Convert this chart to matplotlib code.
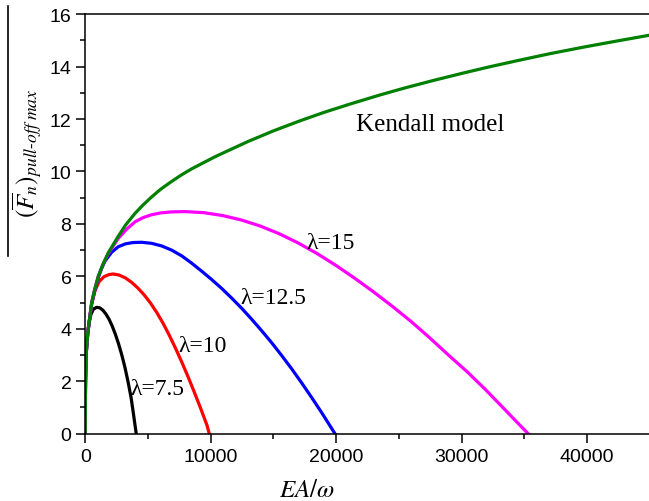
import numpy as np
import matplotlib
matplotlib.use("Agg")
import matplotlib.pyplot as plt
from matplotlib.lines import Line2D

plt.rcParams["mathtext.fontset"] = "stix"
plt.rcParams["font.family"] = ["Liberation Sans", "DejaVu Sans"]

# values
kendallX = [0, 5, 20, 50, 100, 200, 350, 510, 750, 1036, 1400, 1833, 2300,
            2630, 3200, 3960, 4600, 5290, 6000, 6880, 7700, 8480, 9400, 10335,
            11500, 13000, 15000, 17100, 19000, 21090, 23500, 25500, 27730,
            30000, 32200, 34370, 37000, 39680, 42300, 45000]
kendallY = [0, 1.2, 2.0, 2.7, 3.25, 3.85, 4.4, 5.0, 5.5, 6.0, 6.45, 6.9, 7.27,
            7.53, 7.95, 8.4, 8.72, 9.03, 9.32, 9.62, 9.88, 10.1, 10.33, 10.56,
            10.82, 11.15, 11.55, 11.93, 12.25, 12.57, 12.92, 13.19, 13.47,
            13.74, 13.99, 14.22, 14.49, 14.74, 14.97, 15.2]

lam75X = [0, 5, 20, 50, 100, 200, 300, 450, 650, 908, 1150, 1400, 1650, 1900,
          2150, 2400, 2650, 2900, 3150, 3400, 3650, 3850, 4060]
lam75Y = [0, 1.2, 2.0, 2.7, 3.25, 3.85, 4.22, 4.55, 4.75, 4.82, 4.8, 4.71,
          4.56, 4.36, 4.1, 3.79, 3.43, 3.02, 2.55, 2.0, 1.38, 0.72, 0]

lam10X = [0, 5, 20, 50, 100, 200, 350, 510, 773, 1100, 1500, 1900, 2240,
          2700, 3200, 3700, 4200, 4700, 5200, 5700, 6200, 6700, 7200, 7700,
          8200, 8700, 9200, 9700, 9880]
lam10Y = [0, 1.2, 2.0, 2.7, 3.25, 3.85, 4.4, 4.95, 5.45, 5.8, 5.99, 6.07,
          6.09, 6.05, 5.94, 5.77, 5.55, 5.29, 4.98, 4.62, 4.21, 3.75, 3.25,
          2.72, 2.16, 1.57, 0.96, 0.32, 0]

lam125X = [0, 5, 20, 50, 100, 200, 350, 510, 750, 1036, 1300, 1570, 2100,
           2630, 3200, 3800, 4490, 5290, 6090, 6890, 7690, 8490, 9270, 10070,
           10870, 11670, 12470, 13270, 14070, 14870, 15670, 16470, 17270,
           18070, 18870, 19900]
lam125Y = [0, 1.2, 2.0, 2.7, 3.25, 3.85, 4.4, 4.95, 5.45, 5.95, 6.3, 6.58,
           6.92, 7.13, 7.24, 7.29, 7.3, 7.26, 7.16, 7.0, 6.78, 6.5, 6.2, 5.88,
           5.54, 5.17, 4.78, 4.36, 3.92, 3.46, 2.97, 2.46, 1.92, 1.36, 0.78, 0]

lam15X = [0, 5, 20, 50, 100, 200, 350, 510, 750, 1036, 1400, 1833, 2630,
          3300, 3960, 4600, 5290, 6000, 6900, 7940, 9440, 10940, 12440, 13940,
          15440, 16940, 18440, 19940, 21440, 22940, 24440, 25940, 27440,
          28940, 30440, 31940, 33440, 34400, 35300]
lam15Y = [0, 1.2, 2.0, 2.7, 3.25, 3.85, 4.4, 5.0, 5.5, 6.0, 6.44, 6.87, 7.45,
          7.8, 8.08, 8.24, 8.35, 8.42, 8.46, 8.47, 8.43, 8.32, 8.15, 7.92,
          7.63, 7.28, 6.88, 6.43, 5.94, 5.42, 4.87, 4.29, 3.66, 3.0, 2.36,
          1.66, 0.92, 0.44, 0]

lamLabels = ["λ=7.5", "λ=10", "λ=12.5", "λ=15"]
lamLabelX = [3560, 7410, 12330, 17640]
lamLabelY = [1.71, 3.36, 5.20, 7.30]

fig = plt.figure(figsize=(6.49, 5.02), dpi=100)
ax = fig.add_axes([0.1314, 0.1341, 0.870, 0.8357])

ax.plot(lam75X, lam75Y, color="black", linewidth=2.3)
ax.plot(lam10X, lam10Y, color="#ff0000", linewidth=2.3)
ax.plot(lam125X, lam125Y, color="#0000ff", linewidth=2.3)
ax.plot(lam15X, lam15Y, color="#ff00ff", linewidth=2.3)
ax.plot(kendallX, kendallY, color="#008000", linewidth=2.3)

for lbl, lx, ly in zip(lamLabels, lamLabelX, lamLabelY):
    ax.text(lx, ly, lbl, fontsize=17, family="Liberation Serif",
            ha="left", va="center")
ax.text(27450, 11.82, "Kendall model", fontsize=18, family="Liberation Serif",
        ha="center", va="center")

ax.set_xlim(0, 45000)
ax.set_ylim(0, 16)
ax.set_xticks([0, 10000, 20000, 30000, 40000])
ax.set_xticks([5000, 15000, 25000, 35000, 45000], minor=True)
ax.set_yticks(np.arange(0, 17, 2))
ax.set_yticks(np.arange(1, 16, 2), minor=True)
ax.tick_params(which="major", direction="out", length=6.5, width=1.1,
               labelsize=14, top=False, right=False)
ax.tick_params(which="minor", direction="out", length=3.5, width=1.1,
               top=False, right=False)
ax.spines["right"].set_visible(False)
for side in ["left", "bottom", "top"]:
    ax.spines[side].set_linewidth(1.1)

fig.text(307 / 649, 1 - 490 / 502, r"$EA/\omega$", fontsize=18,
         ha="center", va="center")
fig.text(27 / 649, 1 - 153 / 502, r"$(\overline{F}_{n})_{pull\text{-}off\ max}$",
         fontsize=18, rotation=90, ha="center", va="center")
fig.add_artist(Line2D([8 / 649, 8 / 649], [1 - 7 / 502, 1 - 257 / 502],
                      transform=fig.transFigure, color="black", linewidth=1.2))

fig.savefig("out.png", dpi=100)
